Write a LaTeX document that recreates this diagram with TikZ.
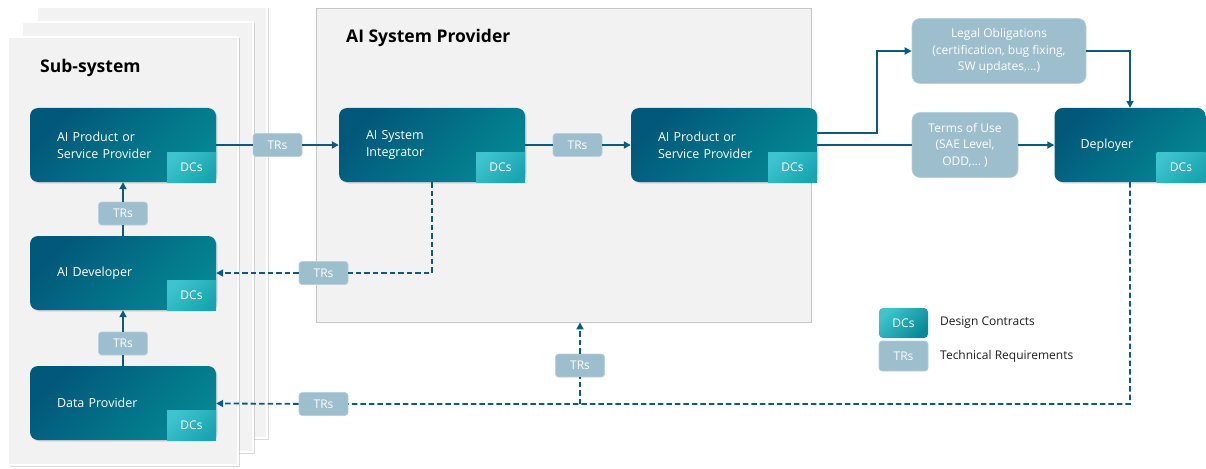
\documentclass[tikz,border=0pt]{standalone}
\usepackage{fontspec}
\setmainfont{Open Sans}
\usetikzlibrary{positioning,arrows.meta,shadows}
\definecolor{tealA}{RGB}{2,88,122}
\definecolor{tealB}{RGB}{4,134,147}
\definecolor{dcA}{RGB}{62,196,205}
\definecolor{dcB}{RGB}{26,164,177}
\definecolor{dcC}{RGB}{8,138,150}
\definecolor{trfill}{RGB}{156,190,205}
\definecolor{trline}{RGB}{184,209,220}
\definecolor{flowc}{RGB}{12,90,125}
\definecolor{pagegray}{RGB}{242,242,242}
\definecolor{panelline}{RGB}{198,198,198}
\definecolor{legtext}{RGB}{30,30,30}

\begin{document}
\begin{tikzpicture}[x=1pt,y=-1pt,
    >={Triangle[length=7pt,width=7pt]},
    every node/.append style={font=\fontsize{12}{17}\selectfont},
    sheet/.style={fill=pagegray,draw=white,line width=1.2pt,drop shadow={opacity=0.3,shadow xshift=1.5pt,shadow yshift=-1.5pt}},
    panel/.style={fill=pagegray,draw=panelline,line width=0.8pt,minimum width=495pt,minimum height=314pt,inner sep=0pt},
    actor/.style={rectangle,rounded corners=8pt,minimum width=186pt,minimum height=74pt,text width=132pt,inner xsep=27pt,inner ysep=0pt,align=left,text=white,font=\fontsize{12.5}{17}\selectfont,left color=tealA,right color=tealB,shading angle=45,drop shadow={opacity=0.25,shadow xshift=1.5pt,shadow yshift=-1.5pt}},
    dctab/.style={rectangle,minimum width=49pt,minimum height=30pt,inner sep=0pt,text=white,left color=dcA,right color=dcB,shading angle=45,anchor=south east},
    trbox/.style={rectangle,rounded corners=3pt,minimum width=49pt,minimum height=23pt,inner sep=0pt,text=white,fill=trfill,draw=trline,line width=0.6pt},
    notebox/.style={trbox,rounded corners=8pt,align=center,font=\fontsize{12}{16.5}\selectfont},
    headline/.style={anchor=base west,inner sep=0pt,font=\bfseries\fontsize{17.5}{20}\selectfont},
    flow/.style={draw=flowc,line width=1.8pt,->},
    dflow/.style={flow,dash pattern=on 5.5pt off 3pt}
  ]
  \useasboundingbox (0,0) rectangle (1206,468);
  \draw[sheet] (37,7) rectangle (267,438);
  \draw[sheet] (22,22) rectangle (253,452);
  \draw[sheet] (8,37) rectangle (238,465);
  \node (subtitle) [headline] at (40,73) {Sub-system};
  \node (asp) [panel] at (563.5,165) {};
  \node (asptitle) [headline] at (346,43) {AI System Provider};

  \node (subprov) [actor] at (123,145)   {AI Product or\\Service Provider};
  \node (aidev)   [actor] at (123,273)   {AI Developer};
  \node (datap)   [actor] at (123,403)   {Data Provider};
  \node (integ)   [actor] at (432,145)   {AI System\\Integrator};
  \node (prov)    [actor] at (724,145)   {AI Product or\\Service Provider};
  \node (deploy)  [actor,minimum width=151pt,text width=99pt,inner xsep=26pt] at (1130,145) {Deployer};
  \foreach \n in {subprov,aidev,datap,integ,prov,deploy}
    \node (\n dc) [dctab] at (\n.south east) {DCs};

  \node (legal) [notebox,minimum width=174pt,minimum height=65pt] at (999,51) {Legal Obligations\\(certification, bug fixing,\\SW updates,…)};
  \node (terms) [notebox,minimum width=106pt,minimum height=65pt] at (965,145) {Terms of Use\\(SAE Level,\\ODD,… )};

  \node (tr1) [trbox] at (277.5,145) {TRs};
  \node (tr2) [trbox] at (577.5,145) {TRs};
  \node (tr3) [trbox] at (123,213.5) {TRs};
  \node (tr4) [trbox] at (123,343.5) {TRs};
  \node (tr5) [trbox] at (323.5,273) {TRs};
  \node (tr6) [trbox] at (323.5,404) {TRs};
  \node (tr7) [trbox] at (580,365.5) {TRs};

  \node (legdc) [dctab,anchor=center,rounded corners=4pt,right color=dcC,shading angle=45] at (903.5,323) {DCs};
  \node (legtr) [trbox,minimum height=30pt] at (903.5,356) {TRs};
  \node (legdctext) [anchor=west,inner xsep=0pt,text=legtext] at (940,323) {Design Contracts};
  \node (legtrtext) [anchor=west,inner xsep=0pt,text=legtext] at (940,356) {Technical Requirements};

  \draw[flow] (subprov) -- (tr1) -- (integ);
  \draw[flow] (integ) -- (tr2) -- (prov);
  \draw[flow] (datap) -- (tr4) -- (aidev);
  \draw[flow] (aidev) -- (tr3) -- (subprov);
  \draw[flow] ([yshift=12pt]prov.east) -- ++(60,0) |- (legal);
  \draw[flow] (legal) -| (deploy);
  \draw[flow] (prov) -- (terms) -- (deploy);
  \draw[dflow] (integ) |- (tr5) -- (aidev);
  \draw[dflow] (deploy) |- (tr6) -- (datap);
  \draw[dflow] (tr7 |- tr6) -- (tr7) -- (tr7 |- asp.south);
\end{tikzpicture}
\end{document}
